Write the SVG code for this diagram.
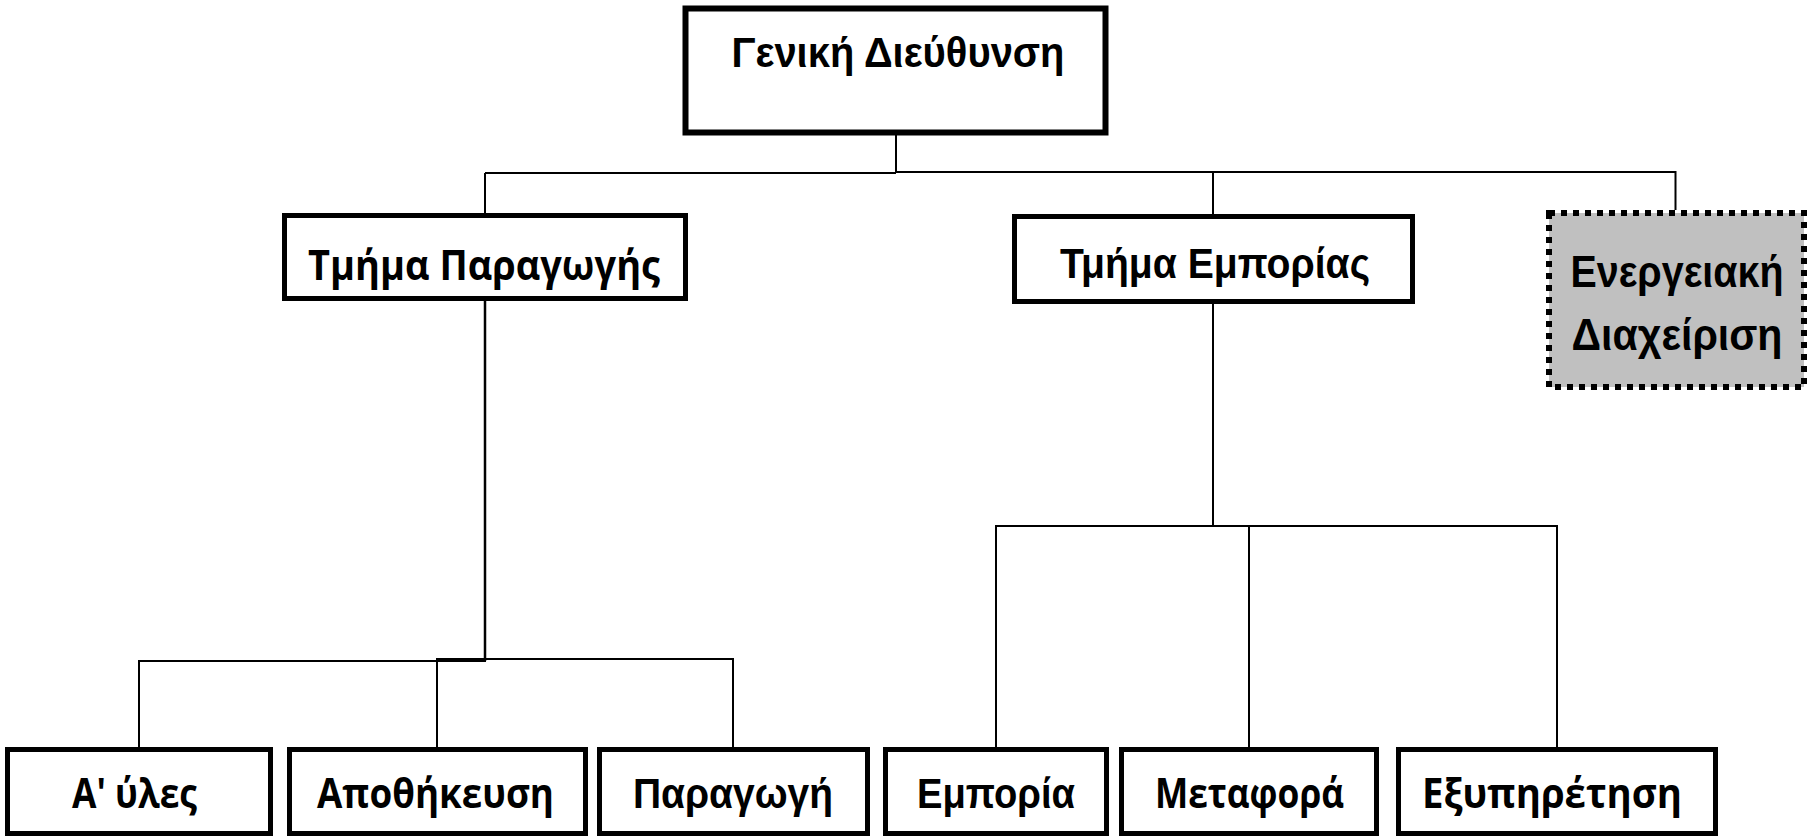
<svg xmlns="http://www.w3.org/2000/svg" width="1810" height="836" viewBox="0 0 1810 836">
<style>
.box{fill:#ffffff;stroke:#000000;stroke-width:5}
.dot{fill:#c0c0c0;stroke:#000000;stroke-width:6;stroke-dasharray:6 6}
.a{font-family:"Liberation Sans",Arial,sans-serif;font-weight:bold;font-size:43px;fill:#000;text-anchor:middle}
.o{font-family:"Open Sans","Noto Sans",sans-serif;font-weight:bold;font-size:42px;fill:#000;text-anchor:middle}
.c{fill:none;stroke:#000000;stroke-width:2}
</style>
<rect width="1810" height="836" fill="#ffffff"/>
<g id="connectors">
<path class="c" d="M896,135 V172.5"/>
<path class="c" d="M485,173 H896"/>
<path class="c" d="M896,172 H1675.5 V210"/>
<path class="c" d="M485,173 V213"/>
<path class="c" d="M1213,172 V215"/>
<path class="c" d="M485,301 V661" style="stroke-width:2.5"/>
<path class="c" d="M139,747 V661 H486"/>
<path class="c" d="M437,747 V659 H733 V747"/>
<path class="c" d="M1213,304 V526"/>
<path class="c" d="M996,747 V526 H1557 V747"/>
<path class="c" d="M1249,526 V747"/>
</g>
<g id="n-geniki">
<rect class="box" x="685.5" y="8.5" width="420" height="124" style="stroke-width:6"/>
<text class="a" x="898" y="67" textLength="333" lengthAdjust="spacingAndGlyphs">Γενική Διεύθυνση</text>
</g>
<g id="n-paragogis">
<rect class="box" x="284.5" y="215.5" width="401" height="83"/>
<text class="o" x="484" y="280" textLength="352" lengthAdjust="spacingAndGlyphs">Τμήμα Παραγωγής</text>
</g>
<g id="n-emporias">
<rect class="box" x="1014.5" y="216.5" width="398" height="85"/>
<text class="a" x="1215" y="278" textLength="310" lengthAdjust="spacingAndGlyphs">Τμήμα Εμπορίας</text>
</g>
<g id="n-energeia">
<rect class="dot" x="1549" y="213" width="255" height="174"/>
<text class="a" x="1677" y="287" textLength="213" lengthAdjust="spacingAndGlyphs" style="font-size:44px">Ενεργειακή</text>
<text class="a" x="1677" y="350" textLength="211" lengthAdjust="spacingAndGlyphs" style="font-size:44px">Διαχείριση</text>
</g>
<g id="n-yles">
<rect class="box" x="7.5" y="749.5" width="263" height="84"/>
<text class="o" x="134.5" y="808" textLength="125" lengthAdjust="spacingAndGlyphs">Α' ύλες</text>
</g>
<g id="n-apothikeusi">
<rect class="box" x="289.5" y="749.5" width="296" height="84"/>
<text class="o" x="435.5" y="808" textLength="237" lengthAdjust="spacingAndGlyphs">Αποθήκευση</text>
</g>
<g id="n-paragogi">
<rect class="box" x="599.5" y="749.5" width="268" height="84"/>
<text class="a" x="733" y="808" textLength="200" lengthAdjust="spacingAndGlyphs">Παραγωγή</text>
</g>
<g id="n-emporia">
<rect class="box" x="885.5" y="749.5" width="221" height="84"/>
<text class="a" x="996" y="808" textLength="158" lengthAdjust="spacingAndGlyphs">Εμπορία</text>
</g>
<g id="n-metafora">
<rect class="box" x="1121.5" y="749.5" width="255" height="84"/>
<text class="o" x="1249.5" y="808" textLength="189" lengthAdjust="spacingAndGlyphs">Μεταφορά</text>
</g>
<g id="n-exypiretisi">
<rect class="box" x="1398.5" y="749.5" width="317" height="84"/>
<text class="o" x="1552" y="808" textLength="260" lengthAdjust="spacingAndGlyphs">Εξυπηρέτηση</text>
</g>
</svg>
